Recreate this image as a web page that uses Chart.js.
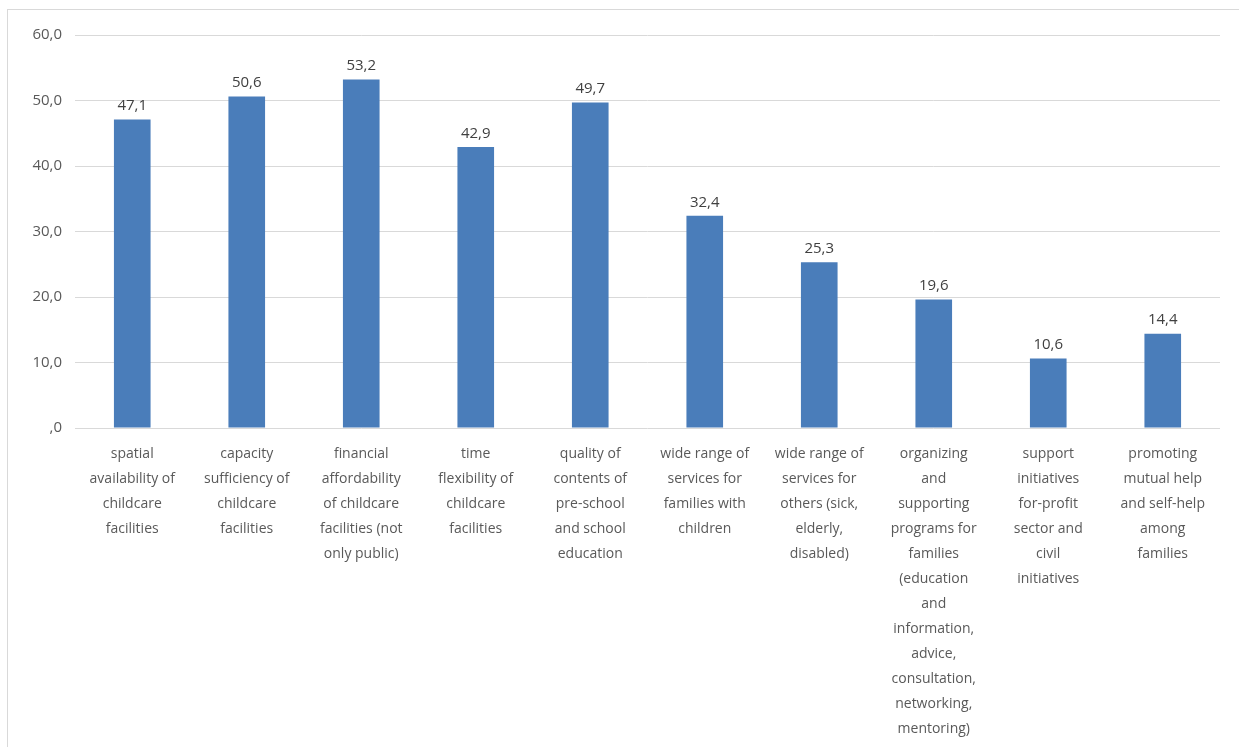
<!DOCTYPE html>
<html>
<head>
<meta charset="utf-8">
<script src="https://cdn.jsdelivr.net/npm/chart.js@4/dist/chart.umd.min.js"></script>
<style>
  html, body { margin:0; padding:0; background:#fff; overflow:hidden; }
  #frame { position:absolute; left:7px; top:9px; width:1260px; height:780px; border:1px solid #d9d9d9; box-sizing:border-box; }
  #wrap { position:absolute; left:0; top:0; width:1239px; height:747px; }
</style>
</head>
<body>
<div id="frame"></div>
<div id="wrap"><canvas id="chart"></canvas></div>
<script>
// categories (already wrapped the way the original shows them)
const categories = [
    ["spatial", "availability of", "childcare", "facilities"],
    ["capacity", "sufficiency of", "childcare", "facilities"],
    ["financial", "affordability", "of childcare", "facilities (not", "only public)"],
    ["time", "flexibility of", "childcare", "facilities"],
    ["quality of", "contents of", "pre-school", "and school", "education"],
    ["wide range of", "services for", "families with", "children"],
    ["wide range of", "services for", "others (sick,", "elderly,", "disabled)"],
    ["organizing", "and", "supporting", "programs for", "families", "(education", "and", "information,", "advice,", "consultation,", "networking,", "mentoring)"],
    ["support", "initiatives", "for-profit", "sector and", "civil", "initiatives"],
    ["promoting", "mutual help", "and self-help", "among", "families"]
];
const values = [47.1, 50.6, 53.2, 42.9, 49.7, 32.4, 25.3, 19.6, 10.6, 14.4];
const yTicks = [0, 10, 20, 30, 40, 50, 60];

const FONT = "'Open Sans', 'Noto Sans', sans-serif";

// comma decimal like the original ("47,1", ",0")
function fmt(v) {
    let s = v.toFixed(1).replace('.', ',');
    if (s.startsWith('0,')) s = s.substring(1);
    return s;
}

// value labels above bars
const valueLabels = {
    id: 'valueLabels',
    afterDatasetsDraw(chart) {
        const ctx = chart.ctx;
        const meta = chart.getDatasetMeta(0);
        ctx.save();
        ctx.font = "15px " + FONT;
        ctx.fillStyle = '#404040';
        ctx.textAlign = 'center';
        ctx.textBaseline = 'bottom';
        meta.data.forEach((bar, i) => {
            ctx.fillText(fmt(values[i]), bar.x, bar.y - 6);
        });
        ctx.restore();
    }
};

new Chart(document.getElementById('chart'), {
    type: 'bar',
    data: {
        labels: categories,
        datasets: [{
            data: values,
            backgroundColor: '#4A7DBA',
            barPercentage: 1,
            categoryPercentage: 0.32
        }]
    },
    options: {
        responsive: true,
        maintainAspectRatio: false,
        animation: false,
        layout: { padding: { top: 35, right: 19, bottom: 0, left: 0 } },
        plugins: { legend: { display: false }, tooltip: { enabled: false } },
        scales: {
            x: {
                grid: { display: false, drawTicks: false },
                border: { display: false },
                ticks: {
                    color: '#595959',
                    font: { family: FONT, size: 14, lineHeight: 1.78 },
                    padding: 14,
                    maxRotation: 0,
                    autoSkip: false
                },
                afterFit(scale) { scale.height = 319; }
            },
            y: {
                min: 0,
                max: 60,
                afterBuildTicks(scale) { scale.ticks = yTicks.map(v => ({ value: v })); },
                grid: { color: '#d9d9d9', drawTicks: false },
                border: { display: false },
                ticks: {
                    color: '#595959',
                    font: { family: FONT, size: 15 },
                    padding: 13,
                    callback: v => fmt(v)
                },
                afterFit(scale) { scale.width = 75; }
            }
        }
    },
    plugins: [valueLabels]
});
</script>
</body>
</html>
